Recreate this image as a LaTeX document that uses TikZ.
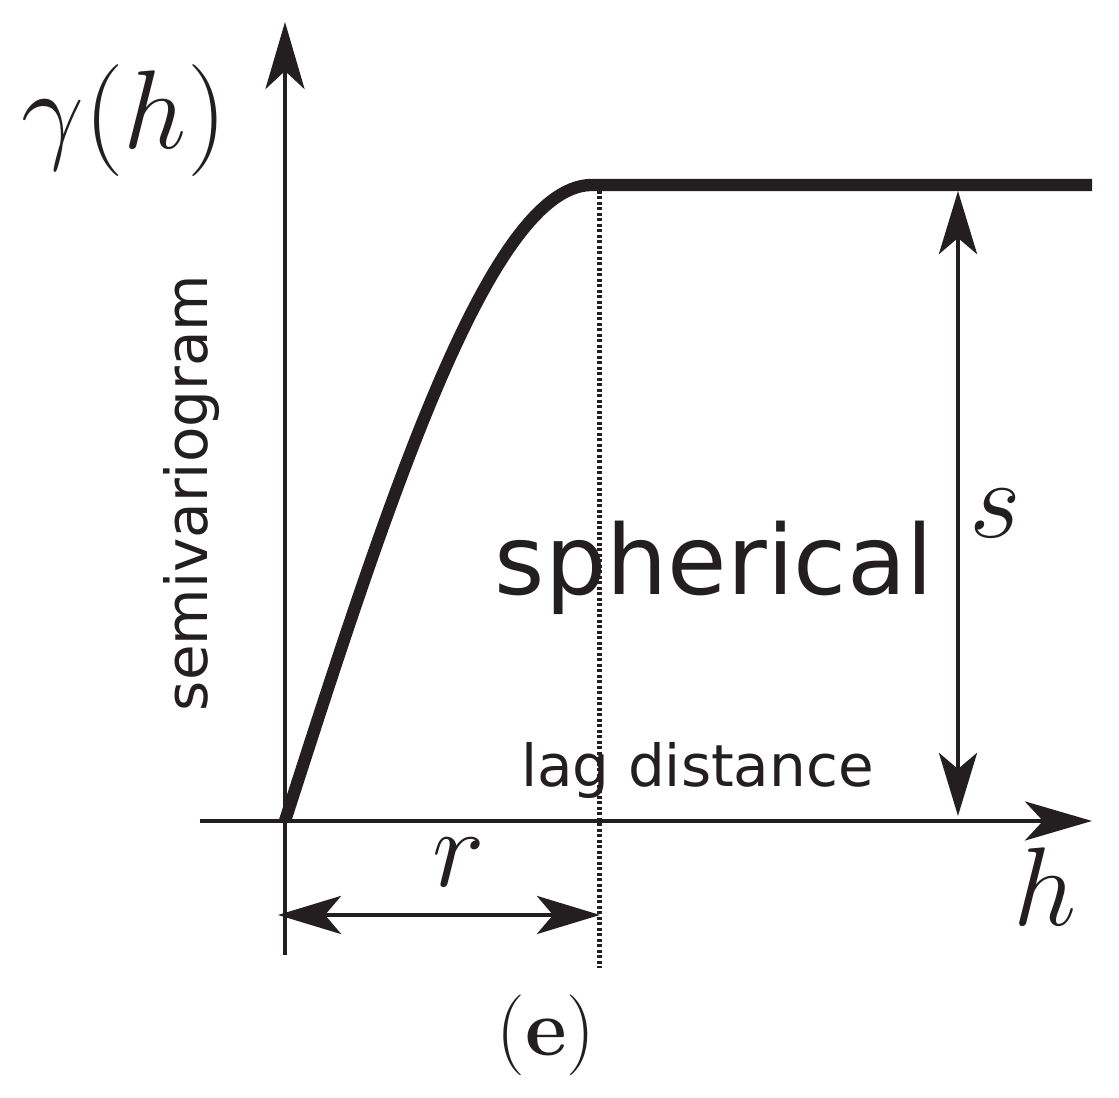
\documentclass[tikz,border=0pt]{standalone}
\usepackage{fontspec}
\setsansfont{DejaVu Sans}
\usetikzlibrary{arrows.meta}
\definecolor{ink}{RGB}{35,31,32}

\begin{document}
\begin{tikzpicture}[color=ink,every path/.append style={line width=1.4pt},
  axis/.style={-{Stealth[length=6.7mm,width=3.9mm,inset=1.8mm]}},
  span/.style={{Stealth[length=6.3mm,width=3.8mm,inset=1.6mm]}-{Stealth[length=6.3mm,width=3.8mm,inset=1.6mm]}},
  rangeline/.style={line width=0.5mm,dash pattern=on 0.3mm off 0.25mm},
  model/.style={line width=3.5pt,line join=round},
  word/.style={font=\sffamily\fontsize{16.5}{20}\selectfont},
  sym/.style={font=\fontsize{24.88}{30}\selectfont,scale=1.28}]
\useasboundingbox (-2.85,-2.77) rectangle (8.34,8.21);

\coordinate (O) at (0,0);
\coordinate (ytop) at (0,7.99);
\coordinate (ybot) at (0,-1.34);
\coordinate (xleft) at (-0.85,0);
\coordinate (xright) at (8.07,0);
\coordinate (sill) at (8.07,6.36);
\coordinate (stop) at (6.73,6.30);
\coordinate (sbot) at (6.73,0.05);
\coordinate (dtop) at (3.15,6.30);
\coordinate (dbot) at (3.15,-1.47);
\coordinate (rleft) at (-0.07,-0.94);
\coordinate (rright) at (3.15,-0.94);

% axes
\draw[axis] (ybot) -- (ytop);
\draw[axis] (xleft) -- (xright);

% spherical model
\draw[model] plot[domain=0:3.07,samples=60] (\x,{6.36*(1.5*\x/3.07-0.5*(\x/3.07)^3)}) -- (sill);

% labels
\node[sym] (gam) at (-1.61,7.0) {$\gamma(h)$};
\node[word,rotate=90] (semi) at (-0.93,3.28) {semivariogram};
\node[font=\sffamily\fontsize{27.5}{32}\selectfont,anchor=base] (sph) at (4.29,2.26) {spherical};
\node[word,anchor=base] (lag) at (4.125,0.34) {lag distance};
\node[sym] (slab) at (7.10,3.08) {$s$};
\node[sym] (rlab) at (1.74,-0.41) {$r$};
\node[sym] (hlab) at (7.60,-0.66) {$h$};
\node[font=\fontsize{23}{27}\selectfont] (cap) at (2.61,-2.14) {(\textbf{e})};

% range and sill
\draw[rangeline] (dtop) -- (dbot);
\draw[span] (stop) -- (sbot);
\draw[span] (rleft) -- (rright);
\end{tikzpicture}
\end{document}
